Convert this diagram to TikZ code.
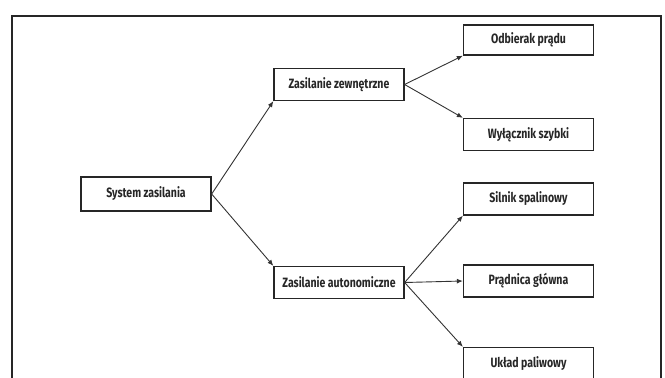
\documentclass[tikz,border=0pt]{standalone}
\usepackage{fontspec}
\setmainfont{Fira Sans}[FakeStretch=0.78]
\usepackage{tikz}
\usetikzlibrary{positioning,arrows.meta}

\tikzset{
    blok/.style={draw=black!85, line width=1.3pt, minimum width=130pt, minimum height=32pt,
        inner sep=0pt, font=\fontsize{13.5}{15}\selectfont\bfseries, text=black!85},
    strz/.style={-{Latex[length=6pt,width=5pt]}, line width=0.9pt, draw=black!80}
}

\begin{document}
\begin{tikzpicture}[x=1pt,y=-1pt]
    \useasboundingbox (0,0) rectangle (665,378);
    % ramka
    \draw[line width=2.5pt, black!85] (12,382) -- (12,16) -- (661,16) -- (661,382);

    % bloki
    \node[blok, minimum height=34pt] (sys) at (146,194) {System zasilania};
    \node[blok] (zew) at (339,84.5) {Zasilanie zewnętrzne};
    \node[blok] (aut) at (339,282.5) {Zasilanie autonomiczne};
    \node[blok, minimum height=30pt] (odb) at (528.5,40) {Odbierak prądu};
    \node[blok] (wyl) at (528.5,134.5) {Wyłącznik szybki};
    \node[blok] (sil) at (528.5,199) {Silnik spalinowy};
    \node[blok] (pra) at (528.5,281) {Prądnica główna};
    \node[blok] (ukl) at (528.5,363.5) {Układ paliwowy};

    % strzalki
    \draw[strz] (sys.east) -- (zew.south west);
    \draw[strz] (sys.east) -- (aut.north west);
    \draw[strz] (zew.east) -- (odb.south west);
    \draw[strz] (zew.east) -- (wyl.north west);
    \draw[strz] (aut.east) -- (sil.south west);
    \draw[strz] (aut.east) -- (pra.west);
    \draw[strz] (aut.east) -- (ukl.north west);
\end{tikzpicture}
\end{document}
